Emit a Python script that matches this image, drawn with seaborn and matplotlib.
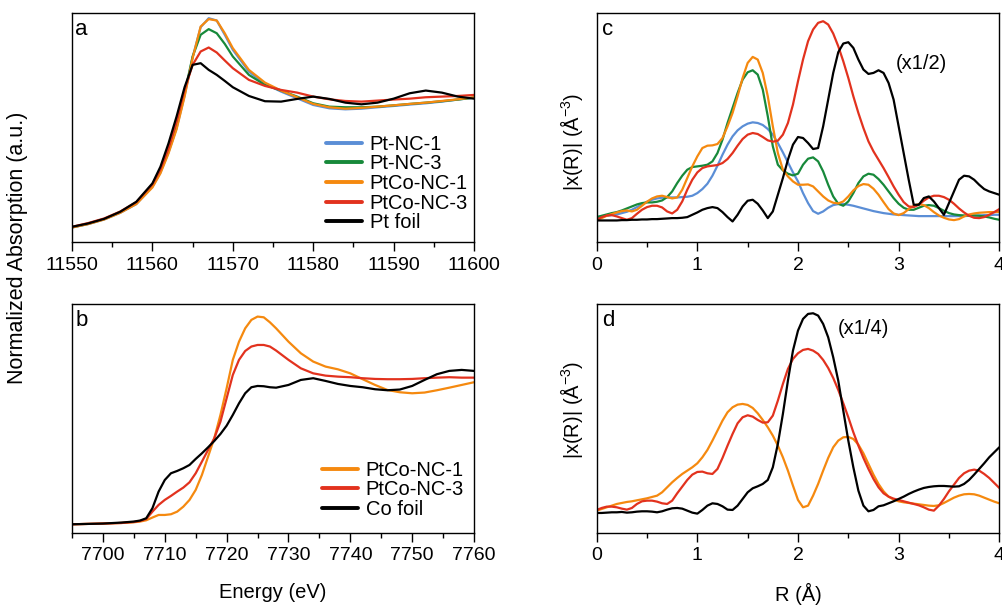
# -*- coding: utf-8 -*-

# XANES / EXAFS comparison figure (Pt L3 edge and Co K edge)
import pandas as pd
import seaborn as sns
import matplotlib.pyplot as plt
from matplotlib.ticker import MultipleLocator

# ---- panel a: Pt L3-edge XANES ----
pt_energy = [11550, 11552, 11554, 11556, 11558, 11560, 11561, 11562, 11563, 11564,
             11565, 11566, 11567, 11568, 11569, 11570, 11572, 11574, 11576, 11578,
             11580, 11582, 11584, 11586, 11588, 11590, 11592, 11594, 11596, 11598, 11600]
pt_nc1 = [-0.005, 0.021, 0.057, 0.109, 0.177, 0.312, 0.423, 0.579, 0.766, 1.021,
          1.319, 1.553, 1.623, 1.605, 1.494, 1.377, 1.208, 1.112, 1.052, 1.000,
          0.948, 0.922, 0.914, 0.919, 0.930, 0.940, 0.951, 0.961, 0.974, 0.990, 1.005]
pt_nc3 = [-0.005, 0.023, 0.060, 0.114, 0.184, 0.319, 0.434, 0.592, 0.792, 1.039,
          1.325, 1.494, 1.538, 1.506, 1.423, 1.325, 1.182, 1.104, 1.060, 1.013,
          0.961, 0.935, 0.930, 0.930, 0.935, 0.945, 0.956, 0.966, 0.977, 0.990, 1.005]
ptco_nc1_pt = [-0.005, 0.021, 0.057, 0.109, 0.177, 0.306, 0.416, 0.571, 0.758, 1.013,
               1.312, 1.558, 1.616, 1.605, 1.506, 1.390, 1.221, 1.122, 1.060, 1.008,
               0.956, 0.930, 0.919, 0.925, 0.935, 0.945, 0.956, 0.966, 0.979, 0.992, 1.008]
ptco_nc3_pt = [0, 0.029, 0.065, 0.119, 0.192, 0.330, 0.447, 0.610, 0.818, 1.065,
               1.260, 1.364, 1.395, 1.356, 1.294, 1.234, 1.143, 1.096, 1.065, 1.044,
               1.013, 0.992, 0.979, 0.974, 0.982, 0.990, 0.997, 1.008, 1.013, 1.018, 1.026]
pt_foil = [0, 0.026, 0.062, 0.117, 0.195, 0.338, 0.468, 0.649, 0.857, 1.086,
           1.260, 1.273, 1.221, 1.182, 1.135, 1.086, 1.018, 0.977, 0.974, 0.995,
           1.013, 0.995, 0.966, 0.953, 0.966, 0.997, 1.039, 1.060, 1.044, 1.013, 0.997]

# ---- panel b: Co K-edge XANES ----
co_energy = [7695, 7700, 7703, 7705, 7706, 7707, 7708, 7709, 7710, 7711, 7712, 7713,
             7714, 7715, 7716, 7717, 7718, 7719, 7720, 7721, 7722, 7723, 7724, 7725,
             7726, 7727, 7728, 7730, 7732, 7734, 7736, 7738, 7740, 7742, 7744, 7746,
             7748, 7750, 7752, 7754, 7756, 7758, 7760]
ptco_nc1_co = [0, 0.005, 0.009, 0.014, 0.019, 0.028, 0.047, 0.065, 0.065, 0.070, 0.088,
               0.123, 0.170, 0.240, 0.344, 0.472, 0.600, 0.763, 0.949, 1.147, 1.274,
               1.367, 1.426, 1.449, 1.444, 1.409, 1.367, 1.274, 1.193, 1.135, 1.100,
               1.081, 1.053, 1.012, 0.972, 0.937, 0.921, 0.914, 0.919, 0.935, 0.953,
               0.972, 0.991]
ptco_nc3_co = [0, 0.005, 0.009, 0.016, 0.023, 0.037, 0.088, 0.135, 0.170, 0.198, 0.228,
               0.256, 0.293, 0.356, 0.437, 0.519, 0.600, 0.716, 0.879, 1.042, 1.147,
               1.209, 1.240, 1.251, 1.251, 1.240, 1.212, 1.147, 1.088, 1.053, 1.037,
               1.030, 1.026, 1.019, 1.014, 1.012, 1.012, 1.014, 1.019, 1.023, 1.026,
               1.023, 1.023]
co_foil = [0, 0.005, 0.012, 0.019, 0.026, 0.042, 0.112, 0.228, 0.309, 0.356, 0.372,
           0.391, 0.414, 0.456, 0.495, 0.537, 0.581, 0.630, 0.688, 0.763, 0.844,
           0.914, 0.956, 0.965, 0.963, 0.956, 0.953, 0.972, 1.007, 1.019, 1.000,
           0.979, 0.965, 0.956, 0.942, 0.935, 0.940, 0.965, 1.007, 1.047, 1.070,
           1.077, 1.070]

# ---- panels c, d: Fourier transformed EXAFS ----
r_grid = [0.0, 0.05, 0.1, 0.15, 0.2, 0.25, 0.3, 0.35, 0.4, 0.45,
          0.5, 0.55, 0.6, 0.65, 0.7, 0.75, 0.8, 0.85, 0.9, 0.95,
          1.0, 1.05, 1.1, 1.15, 1.2, 1.25, 1.3, 1.35, 1.4, 1.45,
          1.5, 1.55, 1.6, 1.65, 1.7, 1.75, 1.8, 1.85, 1.9, 1.95,
          2.0, 2.05, 2.1, 2.15, 2.2, 2.25, 2.3, 2.35, 2.4, 2.45,
          2.5, 2.55, 2.6, 2.65, 2.7, 2.75, 2.8, 2.85, 2.9, 2.95,
          3.0, 3.05, 3.1, 3.15, 3.2, 3.25, 3.3, 3.35, 3.4, 3.45,
          3.5, 3.55, 3.6, 3.65, 3.7, 3.75, 3.8, 3.85, 3.9, 3.95, 4.0]

ft_pt_nc1 = [0.3, 0.333, 0.367, 0.4, 0.433, 0.5, 0.567, 0.667, 0.8, 0.933,
             1.067, 1.167, 1.233, 1.267, 1.283, 1.283, 1.283, 1.3, 1.317, 1.367,
             1.5, 1.7, 1.967, 2.367, 2.867, 3.417, 3.917, 4.333, 4.633, 4.833,
             4.967, 5.033, 5.0, 4.9, 4.7, 4.417, 4.0, 3.533, 3.033, 2.533,
             2.083, 1.5, 1.0, 0.6, 0.467, 0.583, 0.767, 0.9, 0.95, 0.95,
             0.917, 0.867, 0.8, 0.733, 0.667, 0.6, 0.55, 0.5, 0.467, 0.433,
             0.417, 0.4, 0.383, 0.367, 0.35, 0.35, 0.35, 0.35, 0.35, 0.35,
             0.35, 0.35, 0.35, 0.35, 0.367, 0.367, 0.383, 0.4, 0.4, 0.417, 0.417]
ft_pt_nc3 = [0.3, 0.367, 0.433, 0.5, 0.55, 0.633, 0.733, 0.833, 0.933, 1.0,
             1.033, 1.033, 1.067, 1.133, 1.3, 1.583, 2.0, 2.367, 2.667, 2.8,
             2.833, 2.867, 2.917, 3.083, 3.5, 4.167, 5.0, 5.75, 6.5, 7.167,
             7.533, 7.633, 7.417, 6.667, 5.333, 3.833, 2.917, 2.633, 2.467, 2.383,
             2.467, 2.917, 3.217, 3.283, 3.083, 2.583, 1.917, 1.333, 0.967, 0.867,
             1.083, 1.5, 2.0, 2.333, 2.467, 2.417, 2.2, 1.917, 1.583, 1.25,
             0.967, 0.767, 0.667, 0.667, 0.767, 0.867, 0.9, 0.867, 0.75, 0.617,
             0.5, 0.433, 0.4, 0.383, 0.383, 0.383, 0.367, 0.333, 0.283, 0.217, 0.167]
ft_ptco_nc1_pt = [0.167, 0.25, 0.367, 0.45, 0.533, 0.6, 0.633, 0.583, 0.667, 0.867,
                  1.067, 1.233, 1.333, 1.367, 1.3, 1.233, 1.283, 1.667, 2.25, 2.833,
                  3.333, 3.75, 3.867, 3.883, 3.95, 4.25, 4.833, 5.5, 6.333, 7.25,
                  8.0, 8.3, 8.167, 7.5, 6.333, 4.833, 3.5, 2.667, 2.333, 2.083,
                  1.917, 1.917, 1.933, 1.833, 1.583, 1.333, 1.133, 1.017, 0.983, 1.083,
                  1.333, 1.633, 1.85, 1.95, 1.917, 1.717, 1.417, 1.05, 0.7, 0.483,
                  0.4, 0.5, 0.7, 0.867, 0.95, 0.9, 0.75, 0.55, 0.383, 0.267,
                  0.183, 0.15, 0.2, 0.333, 0.433, 0.483, 0.517, 0.533, 0.55, 0.55, 0.567]
ft_ptco_nc3_pt = [0.167, 0.3, 0.383, 0.4, 0.333, 0.25, 0.167, 0.25, 0.467, 0.667,
                  0.8, 0.867, 0.867, 0.783, 0.583, 0.483, 0.667, 1.083, 1.667, 2.167,
                  2.533, 2.75, 2.833, 2.867, 2.9, 3.0, 3.2, 3.5, 3.867, 4.2,
                  4.417, 4.5, 4.45, 4.3, 4.133, 4.067, 4.117, 4.417, 5.0, 5.917,
                  7.083, 8.167, 9.083, 9.667, 10.0, 10.083, 9.917, 9.467, 8.833, 8.083,
                  7.25, 6.333, 5.5, 4.75, 4.083, 3.583, 3.167, 2.75, 2.3, 1.833,
                  1.417, 1.05, 0.833, 0.8, 0.917, 1.117, 1.283, 1.367, 1.367, 1.3,
                  1.167, 0.967, 0.733, 0.533, 0.367, 0.267, 0.25, 0.3, 0.417, 0.55, 0.7]
ft_pt_foil = [0.133, 0.133, 0.133, 0.133, 0.133, 0.15, 0.15, 0.167, 0.167, 0.183,
              0.183, 0.2, 0.2, 0.217, 0.233, 0.25, 0.25, 0.267, 0.3, 0.417,
              0.533, 0.667, 0.75, 0.8, 0.75, 0.55, 0.3, 0.083, 0.417, 0.833,
              1.117, 1.167, 0.967, 0.633, 0.25, 0.583, 1.417, 2.25, 3.167, 3.917,
              4.3, 4.25, 4.0, 3.7, 3.75, 4.833, 6.167, 7.5, 8.533, 8.967,
              9.033, 8.75, 8.167, 7.667, 7.45, 7.5, 7.633, 7.5, 7.0, 6.167,
              4.833, 3.5, 2.167, 0.917, 0.917, 1.25, 1.333, 1.083, 0.75, 0.417,
              1.0, 1.583, 2.167, 2.367, 2.333, 2.167, 1.917, 1.7, 1.583, 1.5, 1.417]

ft_ptco_nc1_co = [0.333, 0.417, 0.5, 0.583, 0.667, 0.717, 0.767, 0.8, 0.85, 0.9,
                  0.95, 1.017, 1.083, 1.25, 1.5, 1.75, 1.967, 2.167, 2.333, 2.5,
                  2.7, 3.0, 3.367, 3.833, 4.333, 4.833, 5.25, 5.5, 5.633, 5.667,
                  5.617, 5.467, 5.2, 4.867, 4.5, 4.083, 3.583, 3.0, 2.333, 1.583,
                  0.867, 0.5, 0.583, 1.083, 1.667, 2.333, 2.967, 3.5, 3.833, 4.0,
                  4.017, 3.917, 3.633, 3.2, 2.667, 2.133, 1.667, 1.3, 1.033, 0.883,
                  0.8, 0.75, 0.717, 0.683, 0.65, 0.617, 0.583, 0.567, 0.6, 0.717,
                  0.85, 0.983, 1.083, 1.15, 1.167, 1.15, 1.083, 0.983, 0.883, 0.783, 0.7]
ft_ptco_nc3_co = [0.367, 0.467, 0.533, 0.533, 0.5, 0.433, 0.383, 0.467, 0.667, 0.8,
                  0.833, 0.833, 0.783, 0.7, 0.667, 0.833, 1.2, 1.533, 1.867, 2.133,
                  2.267, 2.283, 2.2, 2.167, 2.417, 2.967, 3.583, 4.167, 4.7, 5.0,
                  5.1, 5.033, 4.867, 4.733, 4.75, 5.083, 5.833, 6.667, 7.417, 7.917,
                  8.2, 8.367, 8.417, 8.333, 8.167, 7.867, 7.467, 6.967, 6.367, 5.7,
                  5.0, 4.25, 3.583, 2.967, 2.417, 1.917, 1.5, 1.2, 1.033, 0.933,
                  0.867, 0.8, 0.733, 0.667, 0.6, 0.5, 0.383, 0.333, 0.583, 0.917,
                  1.3, 1.633, 1.967, 2.2, 2.333, 2.383, 2.333, 2.167, 1.967, 1.717, 1.467]
ft_co_foil = [0.217, 0.217, 0.233, 0.25, 0.25, 0.267, 0.233, 0.25, 0.283, 0.3,
              0.3, 0.283, 0.25, 0.3, 0.383, 0.45, 0.467, 0.433, 0.333, 0.233,
              0.183, 0.367, 0.583, 0.7, 0.667, 0.55, 0.383, 0.367, 0.583, 0.917,
              1.25, 1.45, 1.55, 1.667, 1.867, 2.5, 3.667, 5.167, 6.833, 8.333,
              9.333, 9.917, 10.167, 10.2, 10.083, 9.667, 9.0, 8.0, 6.833, 5.333,
              3.833, 2.5, 1.333, 0.583, 0.3, 0.367, 0.55, 0.6, 0.7, 0.8,
              0.917, 1.033, 1.167, 1.283, 1.383, 1.467, 1.517, 1.55, 1.567, 1.567,
              1.55, 1.533, 1.55, 1.667, 1.867, 2.133, 2.417, 2.7, 3.0, 3.25, 3.5]

colors = {'Pt-NC-1': '#5b8ed6', 'Pt-NC-3': '#17893a', 'PtCo-NC-1': '#f5890f',
          'PtCo-NC-3': '#e2321e', 'Pt foil': '#000000', 'Co foil': '#000000'}


def long_frame(x, series):
    # stack several curves sharing one x grid into a long table for seaborn
    return pd.concat([pd.DataFrame({'x': x, 'y': v, 'sample': k}) for k, v in series.items()],
                     ignore_index=True)


df_a = long_frame(pt_energy, {'Pt-NC-1': pt_nc1, 'Pt-NC-3': pt_nc3, 'PtCo-NC-1': ptco_nc1_pt,
                              'PtCo-NC-3': ptco_nc3_pt, 'Pt foil': pt_foil})
df_b = long_frame(co_energy, {'PtCo-NC-1': ptco_nc1_co, 'PtCo-NC-3': ptco_nc3_co, 'Co foil': co_foil})
df_c = long_frame(r_grid, {'Pt-NC-1': ft_pt_nc1, 'Pt-NC-3': ft_pt_nc3, 'PtCo-NC-1': ft_ptco_nc1_pt,
                           'PtCo-NC-3': ft_ptco_nc3_pt, 'Pt foil': ft_pt_foil})
df_d = long_frame(r_grid, {'PtCo-NC-1': ft_ptco_nc1_co, 'PtCo-NC-3': ft_ptco_nc3_co, 'Co foil': ft_co_foil})

sns.set_style('ticks')
plt.rcParams['font.family'] = ['Liberation Sans', 'DejaVu Sans']
plt.rcParams['mathtext.default'] = 'regular'
plt.rcParams['font.size'] = 14
plt.rcParams['axes.linewidth'] = 1.0
plt.rcParams['text.color'] = 'black'
plt.rcParams['axes.edgecolor'] = 'black'
plt.rcParams['axes.labelcolor'] = 'black'
plt.rcParams['xtick.color'] = 'black'

fig = plt.figure(figsize=(10.03, 6.05), dpi=100)
ax_a = fig.add_axes([0.0718, 0.5992, 0.4008, 0.3790])
ax_b = fig.add_axes([0.0718, 0.1185, 0.4008, 0.3786])
ax_c = fig.add_axes([0.5949, 0.5992, 0.4014, 0.3790])
ax_d = fig.add_axes([0.5949, 0.1185, 0.4014, 0.3786])

panels = [(ax_a, df_a, True), (ax_b, df_b, True), (ax_c, df_c, False), (ax_d, df_d, False)]
for ax, df, show_leg in panels:
    sns.lineplot(data=df, x='x', y='y', hue='sample', palette=colors, ax=ax,
                 linewidth=1.6, estimator=None, sort=False, legend=show_leg)
    ax.set_xlabel('')
    ax.set_ylabel('')
    ax.set_yticks([])
    ax.tick_params(axis='x', which='major', length=6.7, width=1.0, labelsize=14, pad=3.5)
    ax.tick_params(axis='x', which='minor', length=3.8, width=1.0)
    for s in ax.spines.values():
        s.set_visible(True)
        s.set_linewidth(1.0)

# axis ranges and ticks
ax_a.set_xlim(11550, 11600)
ax_a.set_ylim(-0.122, 1.662)
ax_a.xaxis.set_major_locator(MultipleLocator(10))
ax_a.xaxis.set_minor_locator(MultipleLocator(5))

ax_b.set_xlim(7695, 7760)
ax_b.set_ylim(-0.063, 1.535)
ax_b.xaxis.set_major_locator(MultipleLocator(10))
ax_b.xaxis.set_minor_locator(MultipleLocator(5))

for ax in (ax_c, ax_d):
    ax.set_xlim(0, 4)
    ax.xaxis.set_major_locator(MultipleLocator(1))
    ax.xaxis.set_minor_locator(MultipleLocator(0.5))
ax_c.set_ylim(-0.967, 10.483)
ax_d.set_ylim(-0.8, 10.65)

# legends
for ax, anchor in ((ax_a, (0.985, 0.045)), (ax_b, (0.975, 0.063))):
    old = ax.get_legend()
    handles = old.legend_handles
    labels = [t.get_text() for t in old.get_texts()]
    leg = ax.legend(handles, labels, loc='lower right', bbox_to_anchor=anchor, frameon=False,
                    fontsize=14.5, handlelength=1.75, handletextpad=0.4, labelspacing=0.03,
                    borderpad=0, borderaxespad=0)
    for h in leg.legend_handles:
        h.set_linewidth(2.8)

# panel letters and scaling notes
for ax, letter, xpos in ((ax_a, 'a', 0.008), (ax_b, 'b', 0.008), (ax_c, 'c', 0.014), (ax_d, 'd', 0.014)):
    ax.text(xpos, 0.905, letter, transform=ax.transAxes, fontsize=16, ha='left', va='baseline')
ax_c.text(2.97, 7.95, '(x1/2)', fontsize=14.5, ha='left', va='center')
ax_d.text(2.40, 9.42, '(x1/4)', fontsize=14.5, ha='left', va='center')

ax_b.set_xlabel('Energy (eV)', fontsize=14.5, labelpad=13)
ax_d.set_xlabel('R (Å)', fontsize=14.5, labelpad=13)
fig.text(17.5 / 1003, 1 - 248 / 605, 'Normalized Absorption (a.u.)', rotation=90,
         ha='center', va='center', fontsize=15.5)
fig.text(571.5 / 1003, 1 - 142 / 605, '|x(R)| (Å$^{-3}$)', rotation=90,
         ha='center', va='center', fontsize=14.5)
fig.text(571.5 / 1003, 1 - 410 / 605, '|x(R)| (Å$^{-3}$)', rotation=90,
         ha='center', va='center', fontsize=14.5)

fig.savefig('out.png', dpi=100)
